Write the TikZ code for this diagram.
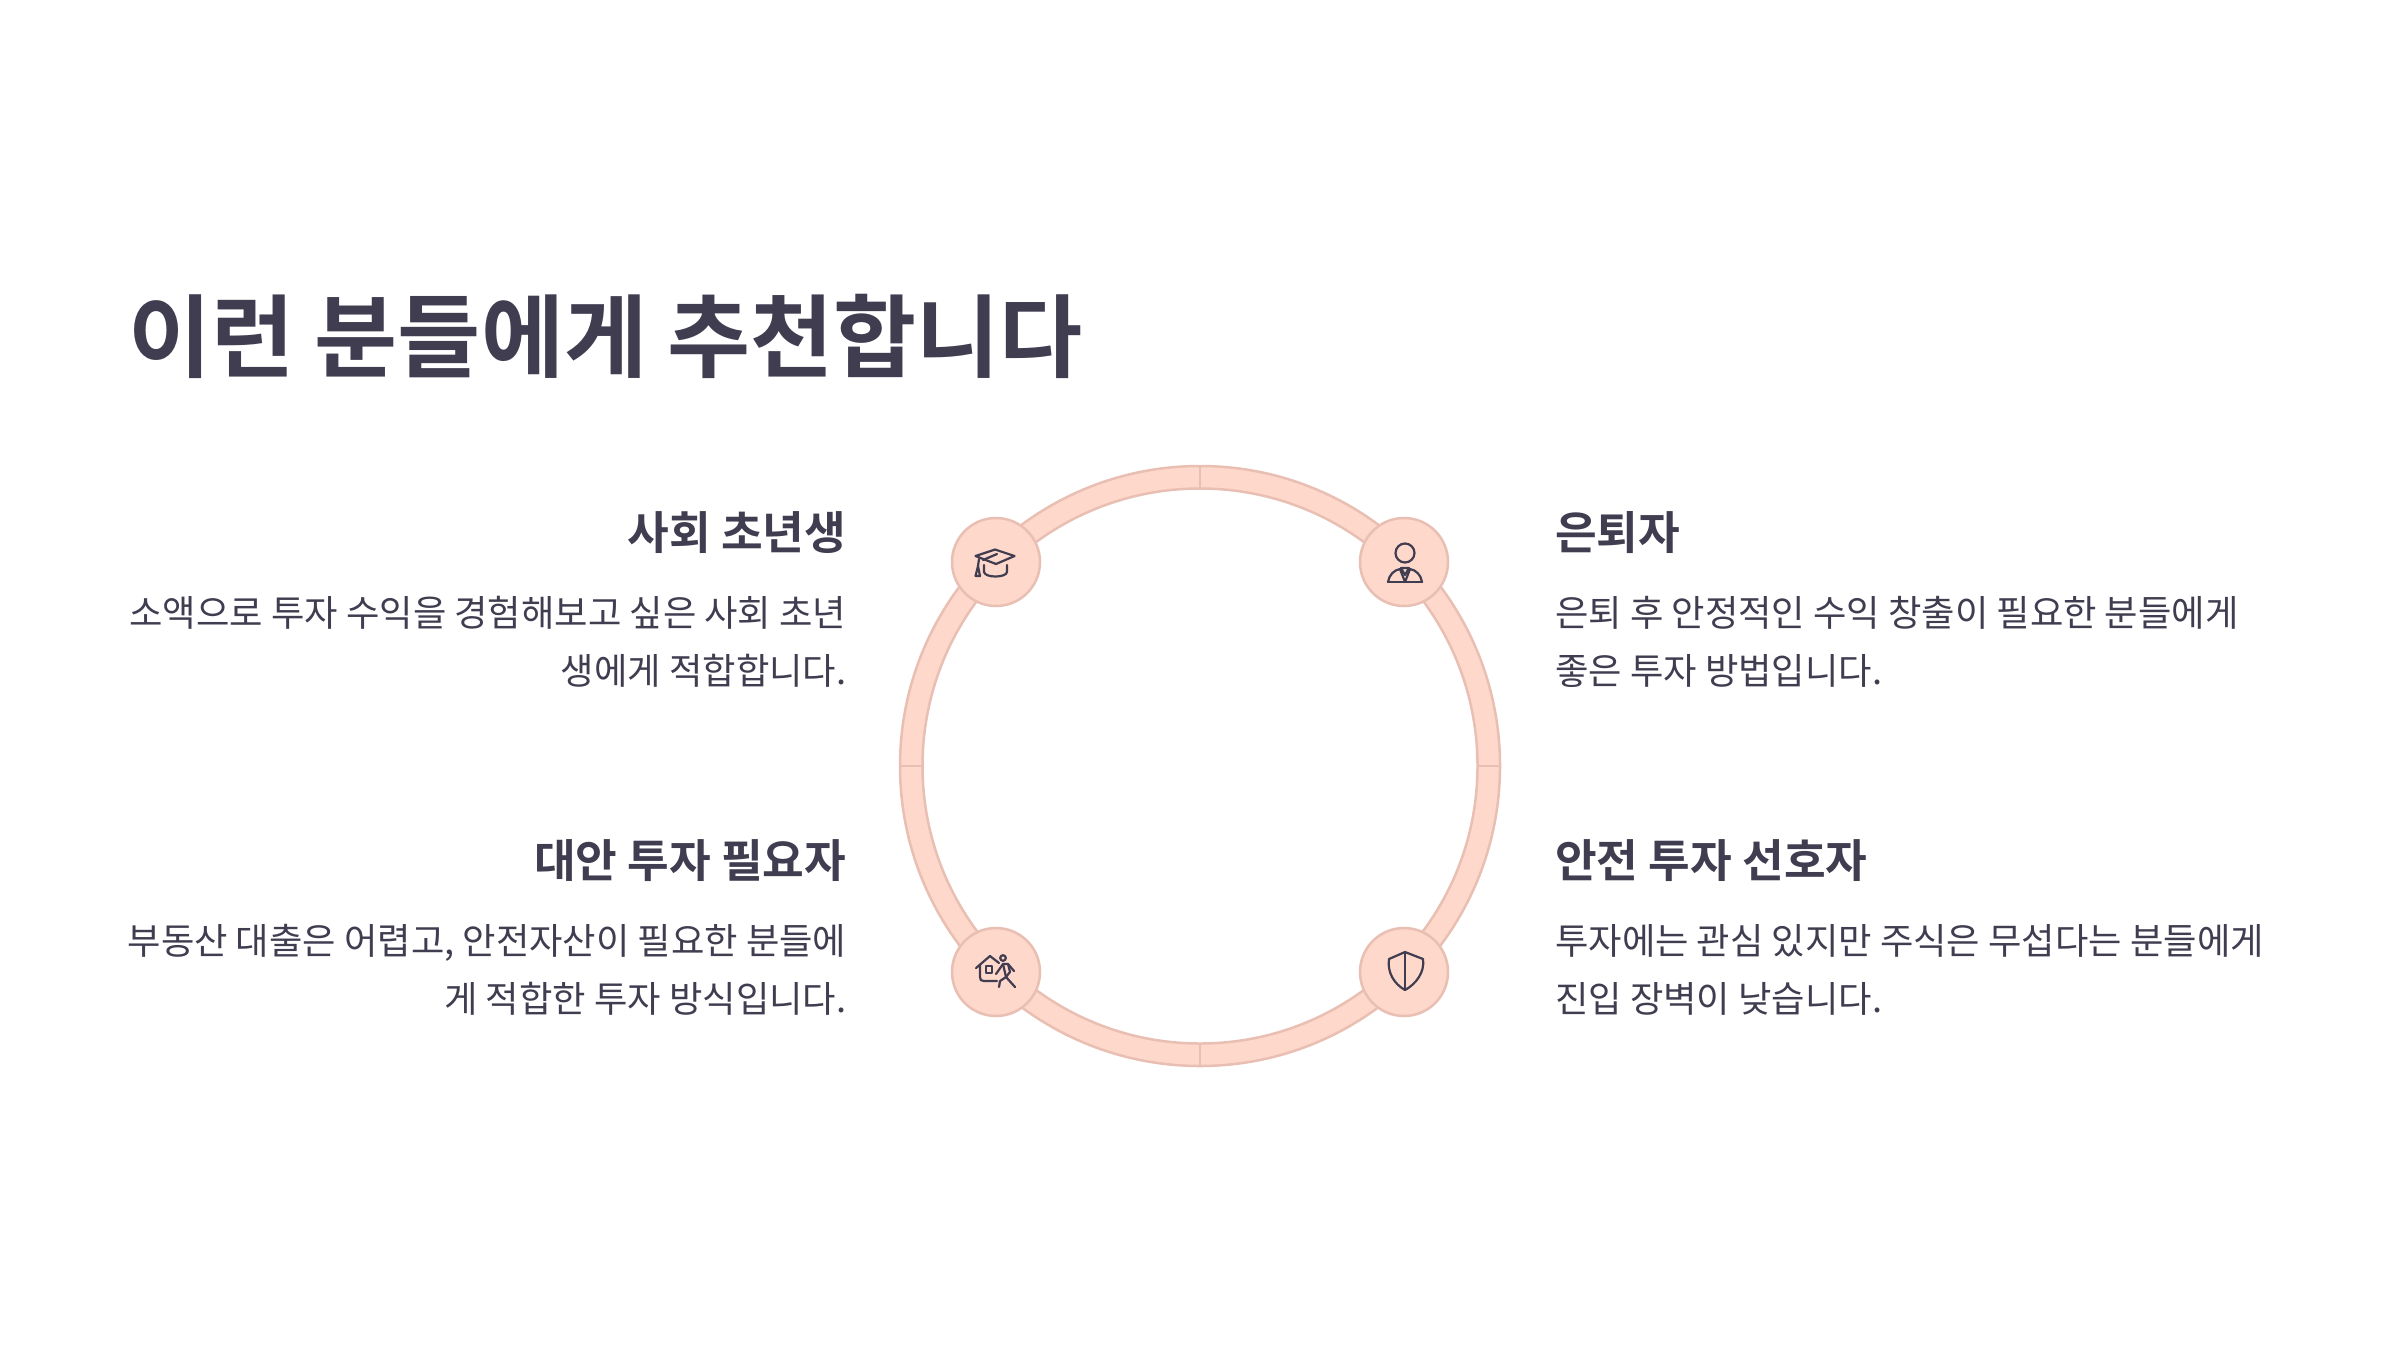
\documentclass[tikz,border=0pt]{standalone}
\usepackage{fontspec}
\setmainfont{Noto Sans CJK KR}
\newfontfamily\krbold{Noto Sans CJK KR Bold}
\definecolor{ink}{HTML}{403D50}
\definecolor{ringfill}{HTML}{FFD8CC}
\definecolor{ringline}{HTML}{E8BFB2}
\tikzset{
  titletext/.style={anchor=base west,inner sep=0,text=ink,font=\krbold\fontsize{90.3}{100}\selectfont},
  headL/.style={anchor=base east,inner sep=0,text=ink,font=\krbold\fontsize{45.3}{52}\selectfont},
  headR/.style={anchor=base west,inner sep=0,text=ink,font=\krbold\fontsize{45.3}{52}\selectfont},
  bodyL/.style={anchor=base east,inner sep=0,text=ink,font=\fontsize{36.3}{42}\selectfont},
  bodyR/.style={anchor=base west,inner sep=0,text=ink,font=\fontsize{36.3}{42}\selectfont},
  ringband/.style={fill=ringfill,draw=ringline,line width=2.5pt,even odd rule},
  tick/.style={draw=ringline,line width=2.5pt},
  badge/.style={circle,fill=ringfill,draw=ringline,line width=2.5pt,minimum size=88pt,inner sep=0},
  icon/.style={draw=ink,line width=2.2pt,line cap=round,line join=round},
}
\begin{document}
\begin{tikzpicture}[x=1pt,y=-1pt]
\useasboundingbox[fill=white] (0,0) rectangle (2400,1350);
\node[titletext] (title) at (128,370) {이런 분들에게 추천합니다};
% ring
\coordinate (c) at (1200,766);
\path[ringband] (c) circle[radius=300] (c) circle[radius=277.5];
\draw[tick] (1200,466)--(1200,488.5);
\draw[tick] (1200,1043.5)--(1200,1066);
\draw[tick] (900,766)--(922.5,766);
\draw[tick] (1477.5,766)--(1500,766);
\node[badge] (tl) at (996,562) {};
\node[badge] (tr) at (1404,562) {};
\node[badge] (bl) at (996,972) {};
\node[badge] (br) at (1404,972) {};
% graduation cap
\draw[icon] (975.5,556) -- (995,549.5) -- (1014.5,556) -- (996,564) -- cycle;
\draw[icon] (983,560) -- (997,554);
\draw[icon] (979,559) -- (978,566);
\draw[icon] (978,566) -- (975.5,576) -- (980,576) -- cycle;
\draw[icon] (984,565) -- (984,572) .. controls (985,578) and (1006,578) .. (1007,572) -- (1007,565);
% person
\draw[icon] (1405,553) circle[radius=9.5];
\draw[icon] (1388,582) -- (1422,582);
\draw[icon] (1388,582) .. controls (1389,575) and (1394,570) .. (1400,569) -- (1405,582) -- (1410,569) .. controls (1416,570) and (1421,575) .. (1422,582);
\draw[icon] (1401,568) -- (1409,568) -- (1405,575) -- cycle;
% house and walker
\draw[icon] (976,968) -- (990,956) -- (999,963);
\draw[icon] (980,965) -- (980,977) .. controls (980,980) and (981,981) .. (984,981) -- (997,981);
\draw[icon] (986,966) rectangle (992,973);
\draw[icon] (1003,958) circle[radius=2.8];
\draw[icon] (996,974) -- (1003,964) -- (1008,964) -- (1014,971);
\draw[icon] (1003,964) -- (1006,977) -- (1015,987);
\draw[icon] (1008,964) -- (1010,972) -- (1006,977) -- (1000,981) -- (999,987);
% shield
\draw[icon] (1405,952) -- (1389,959) .. controls (1387,972) and (1394,984) .. (1405,990) .. controls (1416,984) and (1425,972) .. (1423,959) -- cycle;
\draw[icon] (1405,952) -- (1405,990);
% left texts
\node[headL] (h1) at (846.5,549) {사회 초년생};
\node[bodyL] (b1a) at (846.5,626) {소액으로 투자 수익을 경험해보고 싶은 사회 초년};
\node[bodyL] (b1b) at (846.5,684) {생에게 적합합니다.};
\node[headL] (h2) at (846.5,877) {대안 투자 필요자};
\node[bodyL] (b2a) at (846.5,954) {부동산 대출은 어렵고, 안전자산이 필요한 분들에};
\node[bodyL] (b2b) at (846.5,1012) {게 적합한 투자 방식입니다.};
% right texts
\node[headR] (h3) at (1555,549) {은퇴자};
\node[bodyR] (b3a) at (1555,626) {은퇴 후 안정적인 수익 창출이 필요한 분들에게};
\node[bodyR] (b3b) at (1555,684) {좋은 투자 방법입니다.};
\node[headR] (h4) at (1555,877) {안전 투자 선호자};
\node[bodyR] (b4a) at (1555,954) {투자에는 관심 있지만 주식은 무섭다는 분들에게};
\node[bodyR] (b4b) at (1555,1012) {진입 장벽이 낮습니다.};
\end{tikzpicture}
\end{document}
